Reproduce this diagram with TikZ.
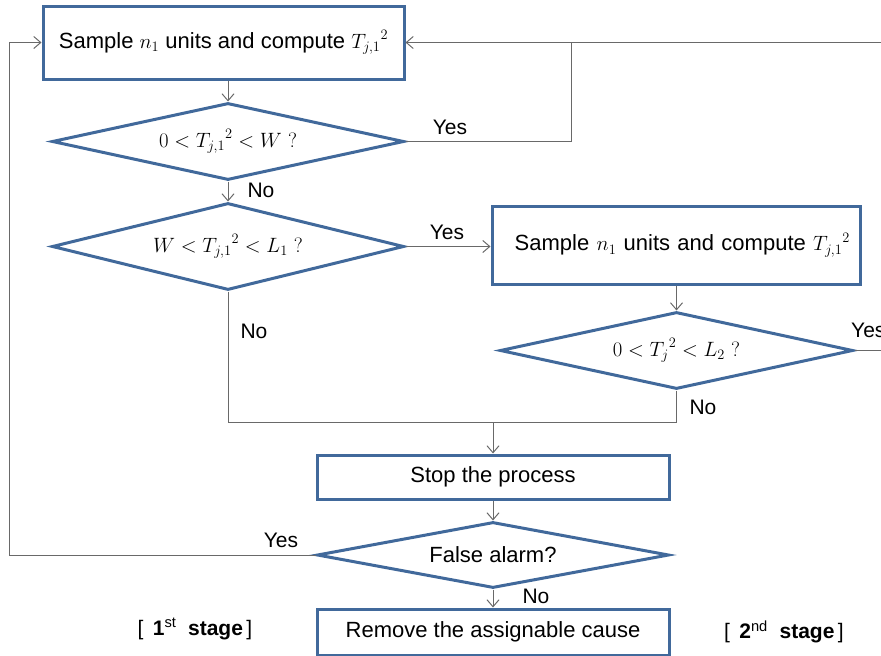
\documentclass[tikz,border=0pt]{standalone}
\usepackage{fontspec}
\setmainfont{Liberation Sans}
\usetikzlibrary{arrows.meta,shapes.geometric}
\definecolor{boxblue}{RGB}{65,105,155}
\definecolor{lngray}{RGB}{105,105,105}
\begin{document}
\begin{tikzpicture}[x=1pt,y=-1pt,
  every node/.style={font=\fontsize{22}{25}\selectfont},
  proc/.style={draw=boxblue, line width=3pt, rectangle, inner sep=0pt},
  dec/.style={draw=boxblue, line width=3pt, diamond, inner sep=0pt},
  lab/.style={font=\fontsize{21}{24}\selectfont, inner sep=0pt},
  wire/.style={draw=lngray, line width=1pt},
  conn/.style={draw=lngray, line width=1pt, -{Straight Barb[length=7pt,width=12pt]}}]
\useasboundingbox (0,0) rectangle (881,656);

% nodes
\node[proc, minimum width=361pt, minimum height=73pt] (b1) at (223.5,42.5)
  {Sample $n_1$ units and compute ${T_{j,1}}^2$};
\node[dec, minimum width=352pt, minimum height=77pt, aspect=4.57] (d1) at (228,141.5)
  {$0<{T_{j,1}}^2<W\ ?$};
\node[dec, minimum width=352pt, minimum height=87pt, aspect=4.05] (d2) at (228,246.5)
  {$W<{T_{j,1}}^2<L_1\ ?$};
\node[proc, minimum width=368pt, minimum height=78pt, text width=348pt, align=right, inner xsep=10pt] (b2) at (676,245)
  {Sample $n_1$ units and compute ${T_{j,1}}^2$};
\node[dec, minimum width=353pt, minimum height=77pt, aspect=4.58] (d3) at (676.5,350.5)
  {$0<{T_j}^2<L_2\ ?$};
\node[proc, minimum width=352pt, minimum height=44pt] (b3) at (493,477) {Stop the process};
\node[dec, minimum width=352pt, minimum height=66pt, aspect=5.33] (d4) at (493,555) {False alarm?};
\node[proc, minimum width=352pt, minimum height=46pt] (b5) at (493,632) {Remove the assignable cause};

% helper coordinates
\coordinate (rin) at (881,42.5);
\coordinate (j1) at (571,42.5);
\coordinate (rout) at (881,350.5);
\coordinate (m) at (493,422);
\coordinate (lft) at (9,555);

% connectors
\draw[conn] (d1.north |- b1.south) -- (d1.north);
\draw[conn] (rin) -- (b1.east);
\draw[wire] (d1.east) -| (j1);
\draw[conn] (d1.south) -- (d2.north);
\draw[conn] (d2.east) -- (d2.east -| b2.west);
\draw[conn] (d3.north |- b2.south) -- (d3.north);
\draw[wire] (d3.east) -- (rout);
\draw[wire] (d3.south) |- (m);
\draw[wire] (d2.south) |- (m);
\draw[conn] (m) -- (b3.north);
\draw[conn] (b3.south) -- (d4.north);
\draw[conn] (d4.south) -- (b5.north);
\draw[conn] (d4.west) -- (lft) |- (b1.west);

% labels
\node[lab] (y1) at (450,127) {Yes};
\node[lab] (n1) at (261,190) {No};
\node[lab] (y2) at (447,232) {Yes};
\node[lab] (n2) at (254,331) {No};
\node[lab, anchor=west] (y3) at (851,330) {Yes};
\node[lab] (n3) at (703,407) {No};
\node[lab] (y4) at (281,540) {Yes};
\node[lab] (n4) at (536,596) {No};
\node[lab] (s1) at (195,629) {[\, \textbf{1}\textsuperscript{st}\ \ \textbf{stage}\,]};
\node[lab] (s2) at (784,632) {[\, \textbf{2}\textsuperscript{nd}\ \ \textbf{stage}\,]};
\end{tikzpicture}
\end{document}
